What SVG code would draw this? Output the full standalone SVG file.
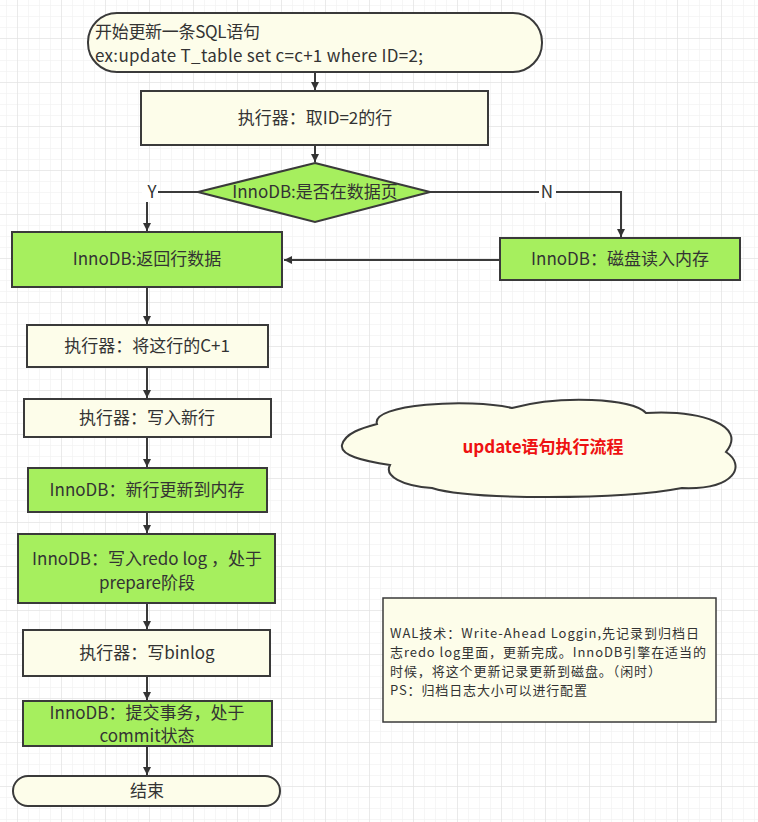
<svg xmlns="http://www.w3.org/2000/svg" width="758" height="822" viewBox="0 0 758 822">
<defs>
<pattern id="minor" width="11" height="11" patternUnits="userSpaceOnUse" patternTransform="translate(17,38)">
<path d="M0 0H11M0 0V11" fill="none" stroke="#eeeeee" stroke-width="1"/>
</pattern>
<pattern id="major" width="44" height="44" patternUnits="userSpaceOnUse" patternTransform="translate(17,38)">
<path d="M0 0H44M0 0V44" fill="none" stroke="#dedede" stroke-width="1"/>
</pattern>
<marker id="arr" markerWidth="10" markerHeight="10" refX="9" refY="5" orient="auto" markerUnits="userSpaceOnUse">
<path d="M1 1L9 5L1 9Z" fill="#333"/>
</marker>
</defs>
<style>
.t{font-family:"Microsoft YaHei","Noto Sans CJK SC","Noto Sans",sans-serif;font-size:17px;fill:#333;}
.c{text-anchor:middle;}
.cream{fill:#fdfdea;stroke:#3a3a3a;stroke-width:2;}
.green{fill:#a6ef5e;stroke:#3a3a3a;stroke-width:2;}
.ln{fill:none;stroke:#3a3a3a;stroke-width:2;}
.note{font-family:"Microsoft YaHei","Noto Sans CJK SC","Noto Sans",sans-serif;font-size:13px;fill:#333;}
</style>
<rect width="758" height="822" fill="#fff"/>
<rect width="758" height="822" fill="url(#minor)"/>
<rect width="758" height="822" fill="url(#major)"/>

<g id="connectors">
<path class="ln" d="M315 72V90" marker-end="url(#arr)"/>
<path class="ln" d="M315 145V162" marker-end="url(#arr)"/>
<path class="ln" d="M198 192H147V231" marker-end="url(#arr)"/>
<path class="ln" d="M430 192H621V237" marker-end="url(#arr)"/>
<path class="ln" d="M500 260H284" marker-end="url(#arr)"/>
<path class="ln" d="M147 287V324" marker-end="url(#arr)"/>
<path class="ln" d="M147 367V398" marker-end="url(#arr)"/>
<path class="ln" d="M147 437V467" marker-end="url(#arr)"/>
<path class="ln" d="M147 512V533" marker-end="url(#arr)"/>
<path class="ln" d="M147 603V629" marker-end="url(#arr)"/>
<path class="ln" d="M147 676V700" marker-end="url(#arr)"/>
<path class="ln" d="M147 746V775" marker-end="url(#arr)"/>
<rect x="142" y="182" width="16" height="20" fill="#fff"/>
<text class="t c" x="152" y="198">Y</text>
<rect x="539" y="182" width="17" height="20" fill="#fff"/>
<text class="t c" x="547" y="198">N</text>
</g>

<g id="start">
<rect class="cream" x="88" y="13" width="454" height="59" rx="29" ry="29"/>
<text class="t" x="95" y="38" textLength="165">开始更新一条SQL语句</text>
<text class="t" x="95" y="62" textLength="328">ex:update T_table set c=c+1 where ID=2;</text>
</g>

<g id="fetch">
<rect class="cream" x="141" y="91" width="347" height="54"/>
<text class="t c" x="315" y="124">执行器：取ID=2的行</text>
</g>

<g id="decision">
<path class="green" d="M315 163L430 192L315 222L198 192Z"/>
<text class="t c" x="315" y="198">InnoDB:是否在数据页</text>
</g>

<g id="return">
<rect class="green" x="12" y="232" width="270" height="55"/>
<text class="t c" x="147" y="265">InnoDB:返回行数据</text>
</g>

<g id="disk">
<rect class="green" x="500" y="238" width="240" height="42"/>
<text class="t c" x="620" y="265">InnoDB：磁盘读入内存</text>
</g>

<g id="plus">
<rect class="cream" x="27" y="325" width="241" height="42"/>
<text class="t c" x="147" y="352">执行器：将这行的C+1</text>
</g>

<g id="writerow">
<rect class="cream" x="24" y="399" width="247" height="38"/>
<text class="t c" x="147" y="424">执行器：写入新行</text>
</g>

<g id="memory">
<rect class="green" x="28" y="468" width="239" height="44"/>
<text class="t c" x="147" y="496">InnoDB：新行更新到内存</text>
</g>

<g id="redo">
<rect class="green" x="18" y="534" width="257" height="69"/>
<text class="t c" x="147" y="565">InnoDB：写入redo log ，处于</text>
<text class="t c" x="147" y="589">prepare阶段</text>
</g>

<g id="binlog">
<rect class="cream" x="23" y="630" width="247" height="46"/>
<text class="t c" x="147" y="659">执行器：写binlog</text>
</g>

<g id="commit">
<rect class="green" x="23" y="701" width="249" height="45"/>
<text class="t c" x="147" y="719">InnoDB：提交事务，处于</text>
<text class="t c" x="147" y="742">commit状态</text>
</g>

<g id="end">
<rect class="cream" x="13" y="776" width="267" height="30" rx="15" ry="15"/>
<text class="t c" x="147" y="797">结束</text>
</g>

<g id="cloud">
<path class="cream" d="M342 445C345 433 362 428 377 424C370 404 470 398 512 408C560 395 632 398 646 413C700 410 748 425 726 452C746 465 736 490 682 488C620 500 470 500 432 488C402 486 384 476 390 465C362 461 340 455 342 445Z"/>
<text class="c" x="543" y="453" style="font-family:'Microsoft YaHei','Noto Sans CJK SC','Noto Sans',sans-serif;font-size:17px;font-weight:bold;fill:#ee1111">update语句执行流程</text>
</g>

<g id="wal">
<rect class="cream" x="383" y="598" width="333" height="124" style="stroke-width:1.5"/>
<text class="note" x="390" y="638" textLength="309">WAL技术：Write-Ahead Loggin,先记录到归档日</text>
<text class="note" x="390" y="657" textLength="316">志redo log里面，更新完成。InnoDB引擎在适当的</text>
<text class="note" x="390" y="676" textLength="271">时候，将这个更新记录更新到磁盘。（闲时）</text>
<text class="note" x="390" y="695" textLength="197">PS：归档日志大小可以进行配置</text>
</g>
</svg>
